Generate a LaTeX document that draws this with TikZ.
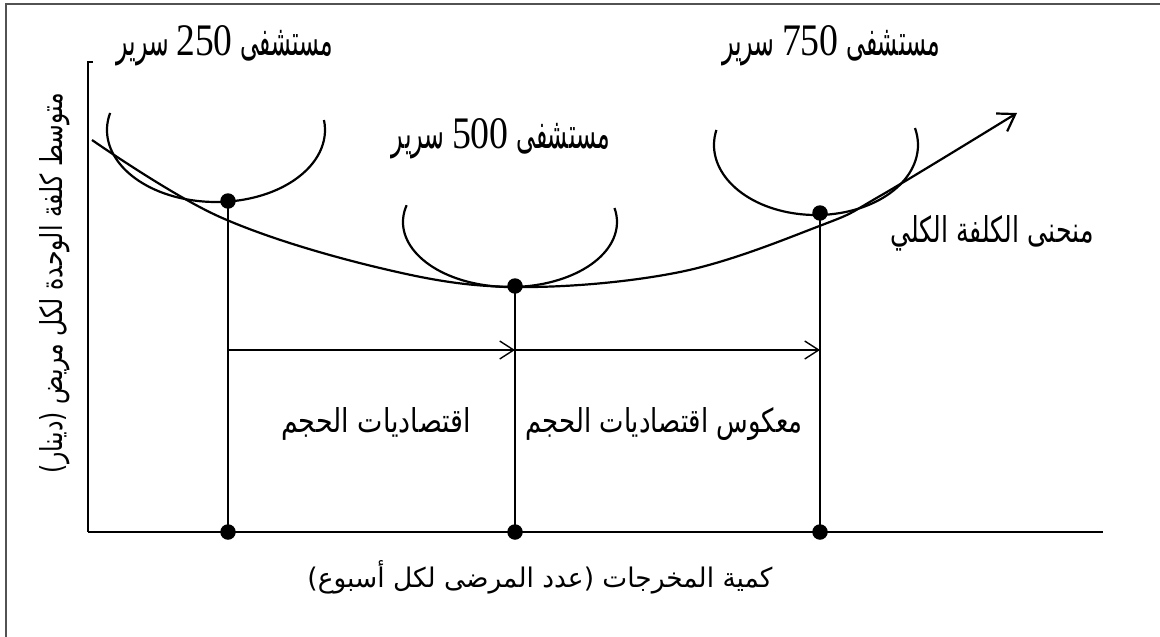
\documentclass[tikz,border=0pt]{standalone}
\usepackage{fontspec}
\usetikzlibrary{arrows.meta}
\TeXXeTstate=1
\newfontfamily\arabicfont[Script=Arabic]{DejaVu Sans}
\newfontfamily\digitfont{Liberation Serif}
\newcommand{\fitbox}[3]{\resizebox{#1pt}{#2pt}{\arabicfont #3}}
\newcommand{\num}[1]{\scalebox{1.6}[1.05]{\digitfont #1}}
\begin{document}
\begin{tikzpicture}[x=1pt,y=-1pt,
  curve/.style={line width=2.2pt},
  guide/.style={line width=1.4pt},
  dot/.style={circle, fill=black, inner sep=0pt, minimum size=15.5pt},
  lbl/.style={inner sep=0pt, font=\arabicfont\fontsize{22}{26}\selectfont},
  harrow/.style={line width=1.4pt, -{Straight Barb[length=14pt,width=18pt,line width=1.4pt]}},
  larrow/.style={line width=2.2pt, -{Straight Barb[length=16pt,width=21pt,line width=2.2pt]}},
]
\useasboundingbox (0,0) rectangle (1160,637);
% frame (only top and left edges are visible)
\draw[line width=2pt, black!68] (6,637) -- (6,4) -- (1160,4);

% axes
\coordinate (ytick) at (93,62);
\coordinate (ytop) at (88,62);
\coordinate (origin) at (88,532);
\coordinate (xend) at (1103,532);
\draw[line width=1.6pt] (ytick) -- (ytop) -- (origin);
\draw[line width=2.6pt] (origin) -- (xend);

% short-run cost curves
\draw[curve] (216,130) ++(193.7:109 and 72) arc (193.7:-8:109 and 72);
\draw[curve] (510,222) ++(195:107 and 65) arc (195:-12.4:107 and 65);
\draw[curve] (816,145) ++(192.4:102 and 70) arc (192.4:-14:102 and 70);

% long-run cost curve
\draw[larrow] plot[smooth, tension=0.6] coordinates
  {(92,140) (220,217) (380,268) (515,287) (680,272) (822,225) (880,196) (1017,113)};

% points
\node[dot] (a) at (228,201) {};
\node[dot] (b) at (515,286) {};
\node[dot] (c) at (820,213) {};
\node[dot] (a0) at (228,532) {};
\node[dot] (b0) at (515,532) {};
\node[dot] (c0) at (820,532) {};
\draw[guide] (a.center) -- (a0.center);
\draw[guide] (b.center) -- (b0.center);
\draw[guide] (c.center) -- (c0.center);

% range arrows
\coordinate (h1) at (228,350);
\coordinate (h2) at (515,350);
\coordinate (h3) at (820,350);
\draw[harrow] (h1) -- (h2);
\draw[harrow] (h2) -- (h3);

% labels
\node[lbl] (l250) at (225,46) {\fitbox{216}{30}{\beginR مستشفى \beginL\num{250}\endL{} سرير\endR}};
\node[lbl] (l500) at (501,139) {\fitbox{218}{30}{\beginR مستشفى \beginL\num{500}\endL{} سرير\endR}};
\node[lbl] (l750) at (831,46) {\fitbox{218}{30}{\beginR مستشفى \beginL\num{750}\endL{} سرير\endR}};
\node[lbl] (ltotal) at (992,233) {\fitbox{203}{27}{\beginR منحنى الكلفة الكلي\endR}};
\node[lbl] (leos) at (376,424) {\fitbox{190}{25}{\beginR اقتصاديات الحجم\endR}};
\node[lbl] (ldis) at (664,424) {\fitbox{277}{25}{\beginR معكوس اقتصاديات الحجم\endR}};
\node[lbl] (xlab) at (540,577) {\fitbox{465}{27}{\beginR كمية المخرجات (عدد المرضى لكل أسبوع)\endR}};
\node[lbl, rotate=90] (ylab) at (55,283) {\fitbox{380}{23}{\beginR متوسط كلفة الوحدة لكل مريض (دينار)\endR}};
\end{tikzpicture}
\end{document}
